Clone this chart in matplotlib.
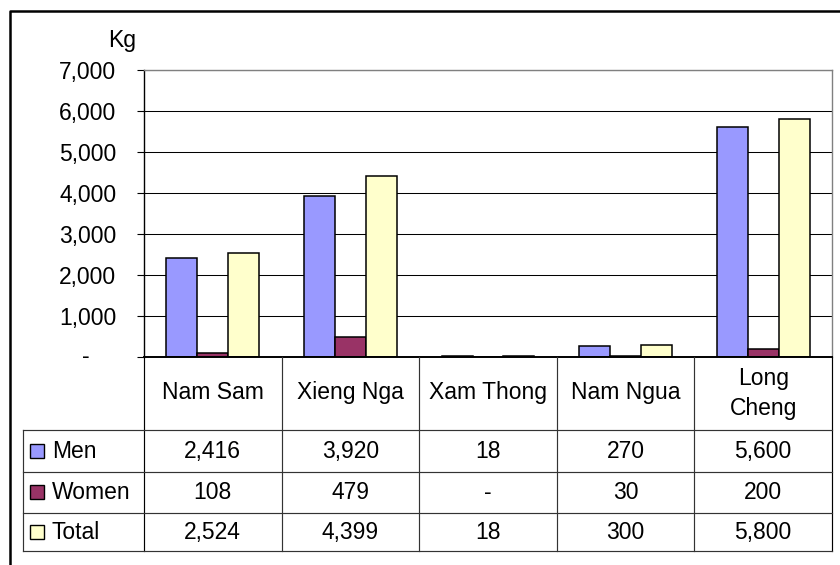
import numpy as np
import matplotlib
matplotlib.use('Agg')
import matplotlib.pyplot as plt
from matplotlib.transforms import blended_transform_factory
from matplotlib.patches import Rectangle
from matplotlib.lines import Line2D

# ---- data ----
categories = ['Nam Sam', 'Xieng Nga', 'Xam Thong', 'Nam Ngua', 'Long\nCheng']
series_names = ['Men', 'Women', 'Total']
men = [2416, 3920, 18, 270, 5600]
women = [108, 479, 0, 30, 200]
total = [2524, 4399, 18, 300, 5800]
y_ticks = [0, 1000, 2000, 3000, 4000, 5000, 6000, 7000]
y_unit = 'Kg'

colors = ['#9999FF', '#993366', '#FFFFCC']

plt.rcParams['font.family'] = ['Liberation Sans', 'DejaVu Sans']
FS = 16.5

W, H = 840, 565
fig = plt.figure(figsize=(8.4, 5.65), dpi=100)
fig.patch.set_facecolor('white')


def px(x):
    return x / W


def py(y):
    return 1 - y / H


ax_l, ax_r, ax_t, ax_b = 144, 832, 69.5, 357
ax = fig.add_axes([px(ax_l), py(ax_b), px(ax_r) - px(ax_l), py(ax_t) - py(ax_b)])
n = len(categories)
bw = 0.225
x = np.arange(n)
for k, (vals, c) in enumerate(zip([men, women, total], colors)):
    ax.bar(x + (k - 1) * bw, vals, width=bw, color=c, edgecolor='black',
           linewidth=1.1, zorder=3)
ax.set_xlim(-0.5, n - 0.5)
ax.set_ylim(0, 7000)
ax.set_yticks(y_ticks)
ax.set_yticklabels([f'{v:,}' if v else '' for v in y_ticks], fontsize=FS)
ax.tick_params(axis='y', length=5, width=0.8, pad=15, direction='out', colors='black')
ax.set_xticks([])
ax.set_axisbelow(True)
ax.grid(axis='y', color='black', linewidth=0.75)
ax.spines['left'].set_color('black')
ax.spines['left'].set_linewidth(1.0)
ax.spines['bottom'].set_color('black')
ax.spines['bottom'].set_linewidth(1.4)
ax.spines['bottom'].set_zorder(5)
for s in ['top', 'right']:
    ax.spines[s].set_color('#808080')
    ax.spines[s].set_linewidth(1.0)
    ax.spines[s].set_zorder(4)

# zero label as dash (accounting style)
ax.text(-(ax_l - 86) / (ax_r - ax_l), 0, '-', transform=ax.get_yaxis_transform(),
        ha='center', va='center', fontsize=FS)

fig.text(px(136), py(47.3), y_unit, ha='right', va='baseline', fontsize=FS)

# ---- data table ----
tax = fig.add_axes([0, 0, 1, 1])
tax.set_xlim(0, W)
tax.set_ylim(H, 0)
tax.axis('off')
tax.patch.set_alpha(0)
bt = blended_transform_factory(ax.transData, tax.transData)

rows_y = [357, 430, 472, 512.5, 551]
tbl_left = 23
line_col = '#333333'
lw = 0.85

# vertical lines at category boundaries
for i in range(n + 1):
    tax.add_line(Line2D([i - 0.5, i - 0.5], [rows_y[0], rows_y[-1]], transform=bt,
                        color=line_col if 0 < i < n else 'black', linewidth=lw,
                        clip_on=False))
# horizontal lines
for yv in rows_y[1:]:
    tax.add_line(Line2D([tbl_left, ax_r], [yv, yv], color=line_col, linewidth=lw,
                        clip_on=False))
tax.add_line(Line2D([tbl_left, tbl_left], [rows_y[1], rows_y[-1]], color=line_col,
                    linewidth=lw, clip_on=False))

# header texts
for i, cat in enumerate(categories):
    lines = cat.split('\n')
    if len(lines) == 1:
        tax.text(i, 399.3, lines[0], transform=bt, ha='center', va='baseline', fontsize=FS)
    else:
        for j, ln in enumerate(lines):
            tax.text(i, 384.5 + 30 * j, ln, transform=bt, ha='center', va='baseline',
                     fontsize=FS)

baselines = [458.3, 499.3, 539.3]
for r, (name, vals, c) in enumerate(zip(series_names, [men, women, total], colors)):
    cy = (rows_y[r + 1] + rows_y[r + 2]) / 2
    tax.add_patch(Rectangle((30, cy - 7), 14, 14, facecolor=c, edgecolor='black',
                            linewidth=1.0, clip_on=False))
    tax.text(52, baselines[r], name, ha='left', va='baseline', fontsize=FS)
    for i, v in enumerate(vals):
        tax.text(i, baselines[r], f'{v:,}' if v else '-', transform=bt,
                 ha='center', va='baseline', fontsize=FS)

# outer chart frame (cut off at right and bottom)
tax.add_line(Line2D([9.5, 9.5, W + 5], [H + 5, 11, 11], color='black', linewidth=1.8,
                    clip_on=False))

fig.savefig('out.png', dpi=100)
